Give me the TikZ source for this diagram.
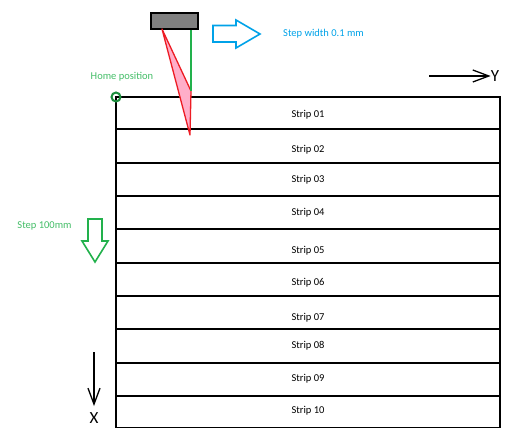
\documentclass[tikz,border=0pt]{standalone}
\usepackage{fontspec}
\setmainfont{Carlito}
\usepackage{xcolor}
\usetikzlibrary{arrows.meta}
\definecolor{paintblue}{RGB}{0,162,232}
\definecolor{paintgreen}{RGB}{34,177,76}
\definecolor{paintred}{RGB}{237,28,36}
\definecolor{paintpink}{RGB}{255,174,201}
\tikzstyle{strip} = [draw=black, line width=1.7pt]
\tikzstyle{firststrip} = [draw=black, line width=2.6pt]
\tikzstyle{smalltext} = [font=\fontsize{10.5}{12}\selectfont, inner sep=1pt]
\tikzstyle{axislabel} = [font=\fontsize{17}{19}\selectfont, inner sep=0pt]
\tikzstyle{axis} = [draw=black, line width=1.3pt,
-{Straight Barb[length=16pt, width=12pt, line width=1.3pt]}]
\tikzstyle{hollow} = [line width=1.6pt, fill=white, line join=miter]

\begin{document}
\begin{tikzpicture}[x=1pt, y=-1pt]
        \useasboundingbox (0,0) rectangle (514,428);
        \foreach \i/\top/\bot/\ty in {02/129/163/150, 03/163/196/180, 04/196/229/213,
            05/229/263/251, 06/263/296/283, 07/296/329/318, 08/329/363/346,
            09/363/396/379, 10/396/428/411}{
            \draw[strip] (116,\top) rectangle (500,\bot);
            \node[smalltext] (strip\i) at (308,\ty) {Strip \i};
        }
        \draw[firststrip] (116,97) rectangle (500,129);
        \node[smalltext] (strip01) at (308,115) {Strip 01};

        \node[draw=black, line width=1.8pt, fill=black!50, minimum width=47pt,
            minimum height=16pt, inner sep=0pt] (head) at (174.5,21) {};
        \coordinate (beamtop) at (162,29);
        \coordinate (spot) at (191,91);
        \coordinate (focus) at (190,135);
        \filldraw[draw=paintred, fill=paintpink, line width=1.3pt, line join=round]
            (beamtop) -- (spot) -- (focus) -- cycle;
        \draw[paintgreen, line width=1.3pt] (head.south -| spot) -- (spot);

        \node[circle, draw=paintgreen!80!black, line width=2pt, minimum size=9pt,
            inner sep=0pt] (home) at (116,97) {};
        \node[smalltext, text=paintgreen!85!white] (homelabel) at (122,77) {Home position};

        \draw[hollow, draw=paintblue] (213,25.5) -- (236,25.5) -- (236,20) -- (260,34)
            -- (236,48) -- (236,42) -- (213,42) -- cycle;
        \node[smalltext, text=paintblue] (stepwidth) at (323.5,34) {Step width 0.1 mm};

        \draw[hollow, draw=paintgreen] (88,219) -- (102,219) -- (102,241) -- (108,241)
            -- (95,262) -- (82,241) -- (88,241) -- cycle;
        \node[smalltext, text=paintgreen!85!white] (stepdown) at (44.5,226) {Step 100mm};

        \coordinate (ystart) at (429,76);
        \node[axislabel] (ylabel) at (495,76) {Y};
        \draw[axis] (ystart) -- (ylabel.west);
        \coordinate (xstart) at (94,352);
        \coordinate (xend) at (94,406);
        \node[axislabel] (xlabel) at (94,418) {X};
        \draw[axis] (xstart) -- (xend);
    \end{tikzpicture}
\end{document}
